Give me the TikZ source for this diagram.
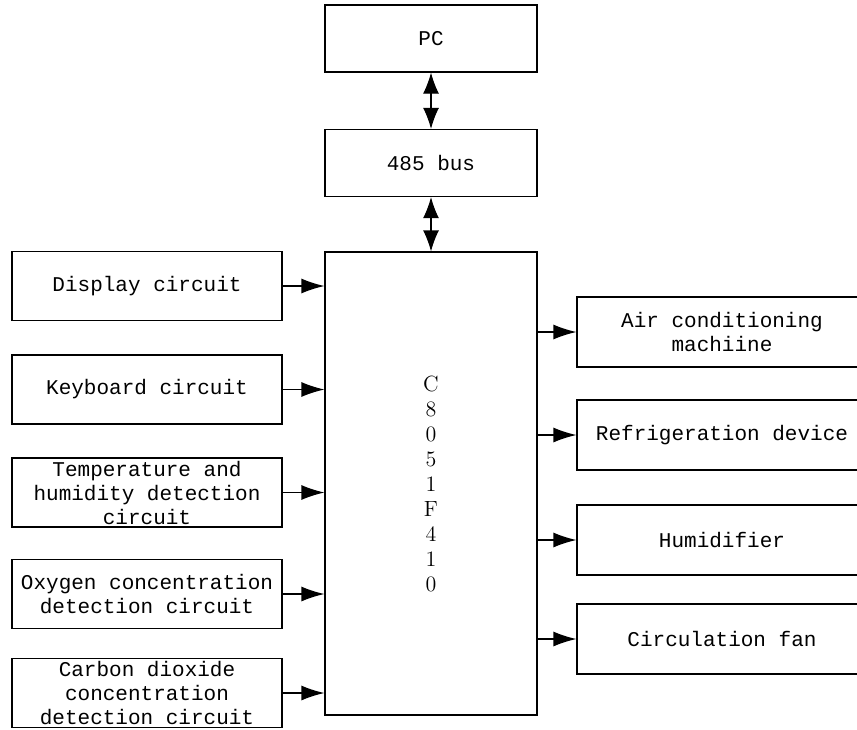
\documentclass[tikz,border=0pt]{standalone}
\usepackage{fontspec}
\setmonofont{Liberation Mono}
\usetikzlibrary{arrows.meta}
\begin{document}
\begin{tikzpicture}[x=0.5pt, y=-0.5pt,
    blk/.style={draw, line width=0.6pt, align=center, inner sep=0pt,
      font=\ttfamily\fontsize{10.5}{12}\selectfont},
    lbox/.style={blk, minimum width=135pt, minimum height=34.5pt},
    rbox/.style={blk, minimum width=145pt, minimum height=35pt},
    tbox/.style={blk, minimum width=106pt, minimum height=33.5pt},
    arr/.style={line width=0.6pt, -{Latex[length=11.5pt,width=7.5pt]}},
    darr/.style={line width=0.6pt, {Latex[length=10.5pt,width=8pt]}-{Latex[length=10.5pt,width=8pt]}}]
  \useasboundingbox (0,0) rectangle (857,729);
  \begin{scope}
  \clip (0,0) rectangle (857,729);
    % top part
    \node[tbox] (pc) at (431,38.5) {PC};
    \node[tbox] (bus) at (431,163) {485 bus};
    \node[blk, minimum width=106pt, minimum height=231.5pt,
      font=\rmfamily\fontsize{11}{12.5}\selectfont] (mcu) at (431,483.5)
      {C\\8\\0\\5\\1\\F\\4\\1\\0};
    % inputs
    \node[lbox] (disp) at (147,286) {Display circuit};
    \node[lbox] (key) at (147,389.5) {Keyboard circuit};
    \node[lbox] (temp) at (147,492.5) {Temperature and\\humidity detection\\circuit};
    \node[lbox] (oxy) at (147,594) {Oxygen concentration\\detection circuit};
    \node[lbox] (co2) at (147,693) {Carbon dioxide\\concentration\\detection circuit};
    % outputs
    \node[rbox] (air) at (722,332) {Air conditioning\\machiine};
    \node[rbox] (fridge) at (722,435) {Refrigeration device};
    \node[rbox] (hum) at (722,540) {Humidifier};
    \node[rbox] (fan) at (722,639) {Circulation fan};
    % links
    \draw[darr] (pc) -- (bus);
    \draw[darr] (bus) -- (mcu);
    \foreach \n in {disp,key,temp,oxy,co2}
      \draw[arr] (\n.east) -- (\n.east -| mcu.west);
    \foreach \n in {air,fridge,hum,fan}
      \draw[arr] (\n.west -| mcu.east) -- (\n.west);
  \end{scope}
\end{tikzpicture}
\end{document}
